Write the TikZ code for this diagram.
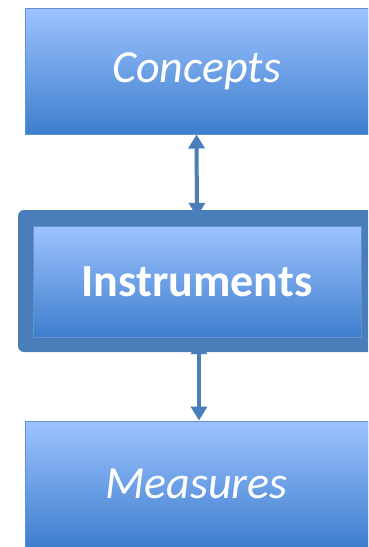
\documentclass[tikz,border=0pt]{standalone}
\usepackage{fontspec}
\setmainfont{Carlito}
\usetikzlibrary{arrows.meta}
\definecolor{frameblue}{RGB}{74,126,187}
\definecolor{topblue}{RGB}{157,195,255}
\definecolor{midblue}{RGB}{124,168,238}
\definecolor{botblue}{RGB}{62,126,205}
\definecolor{edgeblue}{RGB}{96,146,208}
\tikzset{
  gradbox/.style={rectangle, inner sep=0pt, shading=axis, top color=topblue, middle color=midblue, bottom color=botblue, draw=edgeblue, line width=1pt, text=white, font=\fontsize{46}{50}\selectfont},
  framebox/.style={rectangle, rounded corners=6pt, inner sep=0pt, fill=frameblue},
  dblarrow/.style={draw=frameblue, line width=4pt, {Triangle[width=16pt,length=14pt]}-{Triangle[width=16pt,length=14pt]}}
}
\begin{document}
\begin{tikzpicture}[x=1pt,y=-1pt]
\clip (0,0) rectangle (368,547);
\node[gradbox, minimum width=343pt, minimum height=126pt] (C) at (196.5,71) {\raisebox{-4pt}{\itshape Concepts}};
\node[framebox, minimum width=358pt, minimum height=142pt] (F) at (197,281) {};
\node[gradbox, minimum width=328pt, minimum height=111pt] (I) at (197,281.5) {\raisebox{-2pt}{\bfseries Instruments}};
\node[gradbox, minimum width=343pt, minimum height=126pt] (M) at (196.5,484) {\raisebox{-2pt}{\itshape Measures}};
\draw[dblarrow] (C.south) -- ([yshift=-7pt]F.north);
\draw[dblarrow] ([xshift=2pt,yshift=12pt]F.south) -- ([xshift=2.5pt]M.north);
\end{tikzpicture}
\end{document}
